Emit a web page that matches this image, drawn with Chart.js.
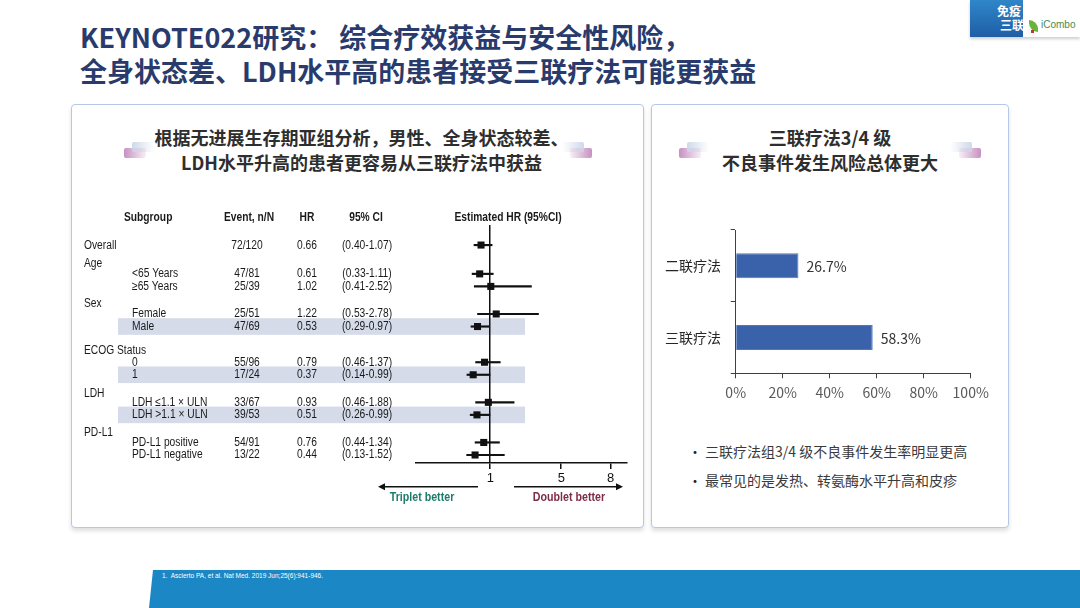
<!DOCTYPE html>
<html lang="zh-CN">
<head>
<meta charset="utf-8">
<script src="https://cdn.jsdelivr.net/npm/chart.js@4.4.1/dist/chart.umd.min.js"></script>
<style>
  html, body { margin: 0; padding: 0; background: #fff; }
  #slide { position: relative; width: 1080px; height: 608px; overflow: hidden; font-family: "Noto Sans CJK SC", sans-serif; }
  .title { position: absolute; left: 80px; top: 20px; margin: 0; font-size: 27px; line-height: 33.5px; font-weight: 700; color: #293b6c; white-space: nowrap; }
  .panel { position: absolute; top: 104px; height: 424px; box-sizing: border-box; border: 1.5px solid #b7c7ea; border-radius: 4px; background: #fff; box-shadow: 0 3px 4px rgba(0,0,0,0.13); }
  .head { position: absolute; top: 125px; text-align: center; font-size: 18px; line-height: 25px; font-weight: 700; color: #2e2e2e; white-space: nowrap; }
  .deco { position: absolute; height: 10px; border-radius: 2px; }
  .pinkL { background: linear-gradient(90deg, rgba(196,138,190,0.95), rgba(220,180,215,0.2)); }
  .blueL { background: linear-gradient(90deg, rgba(205,214,232,0.95), rgba(235,240,248,0)); }
  .pinkR { background: linear-gradient(90deg, rgba(220,180,215,0.2), rgba(196,138,190,0.95)); }
  .blueR { background: linear-gradient(90deg, rgba(235,240,248,0), rgba(205,214,232,0.95)); }
  .bullet { position: absolute; left: 688px; font-size: 14px; line-height: 20px; color: #3a3a3a; white-space: nowrap; }
  .bullet span { display: inline-block; width: 17px; color: #222; }
  canvas { position: absolute; }
</style>
</head>
<body>
<div id="slide">
  <!-- top-right badge -->
  <div style="position:absolute;left:970px;top:0;width:110px;height:37px;background:linear-gradient(#2f86c8,#1f5ea7);box-shadow:0 2px 3px rgba(0,0,0,0.2);"></div>
  <div style="position:absolute;left:997px;top:3px;font-size:12px;line-height:15px;font-weight:700;color:#fff;">免疫</div>
  <div style="position:absolute;left:1000px;top:17px;font-size:12px;line-height:15px;font-weight:700;color:#fff;">三联</div>
  <div style="position:absolute;left:1023px;top:0;width:57px;height:37px;background:#fff;"></div>
  <div style="position:absolute;left:1029px;top:20px;width:9px;height:12px;background:#6bb33a;border-radius:0 9px 0 9px;"></div>
  <div style="position:absolute;left:1031px;top:30px;width:3px;height:3px;background:#d2302c;"></div>
  <div style="position:absolute;left:1041px;top:19px;font-family:'Liberation Sans',sans-serif;font-size:10px;line-height:12px;color:#4a8a4a;">iCombo</div>

  <h1 class="title">KEYNOTE022研究： 综合疗效获益与安全性风险，<br>全身状态差、LDH水平高的患者接受三联疗法可能更获益</h1>

  <div class="panel" style="left:71px;width:573px;"></div>
  <div class="panel" style="left:651px;width:358px;"></div>

  <!-- heading decorations -->
  <div class="deco pinkL" style="left:124px;top:148px;width:22px;"></div>
  <div class="deco blueL" style="left:132px;top:142px;width:22px;"></div>
  <div class="deco pinkR" style="left:570px;top:148px;width:22px;"></div>
  <div class="deco blueR" style="left:562px;top:142px;width:22px;"></div>
  <div class="deco pinkL" style="left:679px;top:148px;width:22px;"></div>
  <div class="deco blueL" style="left:687px;top:142px;width:22px;"></div>
  <div class="deco pinkR" style="left:959px;top:148px;width:22px;"></div>
  <div class="deco blueR" style="left:950px;top:142px;width:22px;"></div>

  <div class="head" style="left:76px;width:571px;">根据无进展生存期亚组分析，男性、全身状态较差、<br>LDH水平升高的患者更容易从三联疗法中获益</div>
  <div class="head" style="left:651px;width:358px;">三联疗法3/4 级<br>不良事件发生风险总体更大</div>

  <canvas id="forest" style="left:72px;top:190px;"></canvas>
  <canvas id="aeChart" style="left:651px;top:200px;"></canvas>

  <div class="bullet" style="top:441px;"><span>•</span>三联疗法组3/4 级不良事件发生率明显更高</div>
  <div class="bullet" style="top:470px;"><span>•</span>最常见的是发热、转氨酶水平升高和皮疹</div>

  <div style="position:absolute;left:149px;top:570px;width:931px;height:38px;background:#1b87c4;clip-path:polygon(4px 0,100% 0,100% 100%,0 100%);"></div>
  <div style="position:absolute;left:162px;top:572px;font-family:'Liberation Sans',sans-serif;font-size:6.5px;line-height:8px;color:#fff;">1.&nbsp; Ascierto PA, et al. Nat Med. 2019 Jun;25(6):941-946.</div>
</div>

<script>
// ---- forest plot data (PFS subgroups) ----
const GROUPS = ['Overall', 'Age', 'Sex', 'ECOG Status', 'LDH', 'PD-L1'];
const SUBGROUPS = ['', '<65 Years', '≥65 Years', 'Female', 'Male', '0', '1', 'LDH ≤1.1 × ULN', 'LDH >1.1 × ULN', 'PD-L1 positive', 'PD-L1 negative'];
const SUBGROUP_OF = [0, 1, 1, 2, 2, 3, 3, 4, 4, 5, 5];
const EVENTS = [72, 47, 25, 25, 47, 55, 17, 33, 39, 54, 13];
const TOTALS = [120, 81, 39, 51, 69, 96, 24, 67, 53, 91, 22];
const HR = [0.66, 0.61, 1.02, 1.22, 0.53, 0.79, 0.37, 0.93, 0.51, 0.76, 0.44];
const CI_LOW = [0.40, 0.33, 0.41, 0.53, 0.29, 0.46, 0.14, 0.46, 0.26, 0.44, 0.13];
const CI_HIGH = [1.07, 1.11, 2.52, 2.78, 0.97, 1.37, 0.99, 1.88, 0.99, 1.34, 1.52];
const HIGHLIGHT = ['Male', '1', 'LDH >1.1 × ULN'];
const HR_TICKS = [1, 5, 8];

// ---- adverse event chart data ----
const AE_CATEGORIES = ['二联疗法', '三联疗法'];
const AE_RATE = [26.7, 58.3];
const AE_TICK_STEP = 20;

// row layout: gap before each group, and how far its header sits above the first row
const GROUP_GAP = [0, 2.3, 2.2, 2.85, 2.2, 2.2];
const HEADER_LIFT = [0, 0.86, 0.8, 0.95, 0.67, 0.81];
const rowPos = [];
const headerPos = [];
let pos = 0;
SUBGROUP_OF.forEach((g, i) => {
    const newGroup = i === 0 || g !== SUBGROUP_OF[i - 1];
    if (i > 0) pos += newGroup ? GROUP_GAP[g] : 1;
    if (newGroup) headerPos[g] = pos - HEADER_LIFT[g];
    rowPos.push(pos);
});

// the original HR axis is broken: linear near 1, compressed past ~2.8
const X_BREAKS = [[2.8, 2.8], [5, 3.62], [8, 5.44]];
function warp(v) {
    if (v <= X_BREAKS[0][0]) return v;
    for (let i = 1; i < X_BREAKS.length; i++) {
        const [a, ua] = X_BREAKS[i - 1], [b, ub] = X_BREAKS[i];
        if (v <= b || i === X_BREAKS.length - 1) return ua + (v - a) * (ub - ua) / (b - a);
    }
}
function unwarp(u) {
    if (u <= X_BREAKS[0][1]) return u;
    for (let i = 1; i < X_BREAKS.length; i++) {
        const [a, ua] = X_BREAKS[i - 1], [b, ub] = X_BREAKS[i];
        if (u <= ub || i === X_BREAKS.length - 1) return a + (u - ua) * (b - a) / (ub - ua);
    }
}
class BrokenScale extends Chart.LinearScale {
    static id = 'broken';
    getPixelForValue(v) {
        const a = warp(this.min), b = warp(this.max);
        return this.getPixelForDecimal((warp(v) - a) / (b - a));
    }
    getValueForPixel(p) {
        const a = warp(this.min), b = warp(this.max);
        return unwarp(a + this.getDecimalForPixel(p) * (b - a));
    }
}
Chart.register(BrokenScale);

// narrow font check, fall back to squeezing Liberation Sans
const HAS_NARROW = (() => {
    const c = document.createElement('canvas').getContext('2d');
    c.font = '40px "Liberation Sans Narrow", monospace';
    const w = c.measureText('Subgroup Event').width;
    c.font = '40px monospace';
    return Math.abs(w - c.measureText('Subgroup Event').width) > 1;
})();

function txt(ctx, str, x, y, size, bold, color, align) {
    ctx.save();
    ctx.fillStyle = color;
    ctx.textAlign = align || 'left';
    ctx.textBaseline = 'middle';
    const w = bold ? 'bold ' : '';
    if (HAS_NARROW) {
        ctx.font = `${w}${size}px "Liberation Sans Narrow"`;
        ctx.fillText(str, x, y);
    } else {
        ctx.font = `${w}${size}px "Liberation Sans", Arial`;
        ctx.translate(x, y);
        ctx.scale(0.82, 1);
        ctx.fillText(str, 0, 0);
    }
    ctx.restore();
}

function arrow(ctx, x1, x2, y) {
    const dir = Math.sign(x2 - x1);
    ctx.save();
    ctx.strokeStyle = '#111';
    ctx.fillStyle = '#111';
    ctx.lineWidth = 1.5;
    ctx.beginPath();
    ctx.moveTo(x1, y);
    ctx.lineTo(x2 - dir * 5, y);
    ctx.stroke();
    ctx.beginPath();
    ctx.moveTo(x2, y);
    ctx.lineTo(x2 - dir * 7, y - 3.5);
    ctx.lineTo(x2 - dir * 7, y + 3.5);
    ctx.closePath();
    ctx.fill();
    ctx.restore();
}

const forestTable = {
    id: 'forestTable',
    beforeDraw(chart) {
        // shaded rows
        const ctx = chart.ctx, ys = chart.scales.y;
        ctx.save();
        ctx.fillStyle = '#d5dbe9';
        SUBGROUPS.forEach((s, i) => {
            if (!HIGHLIGHT.includes(s)) return;
            const py = ys.getPixelForValue(rowPos[i]);
            ctx.fillRect(46, py - 8.3, 407, 16.6);
        });
        ctx.restore();
    },
    afterDraw(chart) {
        const ctx = chart.ctx, ys = chart.scales.y, area = chart.chartArea;
        const c = '#1a1a1a';
        const hy = area.top - 7;
        txt(ctx, 'Subgroup', 52, hy, 12.5, true, c);
        txt(ctx, 'Event, n/N', 177, hy, 12.5, true, c, 'center');
        txt(ctx, 'HR', 235, hy, 12.5, true, c, 'center');
        txt(ctx, '95% CI', 294, hy, 12.5, true, c, 'center');
        txt(ctx, 'Estimated HR (95%CI)', 436, hy, 12.5, true, c, 'center');

        GROUPS.forEach((g, i) => txt(ctx, g, 12, ys.getPixelForValue(headerPos[i]), 12.5, false, c));
        SUBGROUPS.forEach((s, i) => {
            const py = ys.getPixelForValue(rowPos[i]);
            if (s) txt(ctx, s, 60, py, 12.5, false, c);
            txt(ctx, EVENTS[i] + '/' + TOTALS[i], 175, py, 12.5, false, c, 'center');
            txt(ctx, HR[i].toFixed(2), 235, py, 12.5, false, c, 'center');
            txt(ctx, '(' + CI_LOW[i].toFixed(2) + '-' + CI_HIGH[i].toFixed(2) + ')', 295, py, 12.5, false, c, 'center');
        });

        const ay = area.bottom + 23.7;
        arrow(ctx, 406, 306, ay);
        arrow(ctx, 442, 551, ay);
        txt(ctx, 'Triplet better', 350, ay + 11, 13, true, '#1e7b6c', 'center');
        txt(ctx, 'Doublet better', 497, ay + 11, 13, true, '#7d2d4a', 'center');
    }
};

function drawForest() {
    const cv = document.getElementById('forest');
    cv.width = 571;
    cv.height = 330;
    new Chart(cv, {
        type: 'scatter',
        data: {
            datasets: [{
                type: 'bar',
                indexAxis: 'y',
                data: SUBGROUPS.map((s, i) => ({ x: [CI_LOW[i], CI_HIGH[i]], y: rowPos[i] })),
                backgroundColor: '#111',
                borderWidth: 0,
                barThickness: 1.5
            }, {
                type: 'scatter',
                data: HR.map((v, i) => ({ x: v, y: rowPos[i] })),
                pointStyle: 'rect',
                pointRadius: 5,
                borderWidth: 0,
                backgroundColor: '#111'
            }]
        },
        options: {
            responsive: false,
            animation: false,
            layout: { padding: { left: 344, right: 16, top: 35, bottom: 33 } },
            plugins: { legend: { display: false }, tooltip: { enabled: false } },
            scales: {
                x: {
                    type: 'broken',
                    min: -1.74,
                    max: 9,
                    offset: false,
                    afterBuildTicks: s => { s.ticks = HR_TICKS.map(v => ({ value: v })); },
                    afterFit: s => { s.height = 24; },
                    grid: {
                        offset: false,
                        color: c => (c.tick && c.tick.value === 1 ? '#111' : 'rgba(0,0,0,0)'),
                        lineWidth: 1.5,
                        tickColor: '#111',
                        tickLength: 6
                    },
                    border: { color: '#111', width: 1.5 },
                    ticks: { color: '#111', padding: 2, autoSkip: false, maxRotation: 0,
                        font: { family: '"Liberation Sans Narrow", "Liberation Sans"', size: 13 } }
                },
                y: { type: 'linear', reverse: true, min: -1.6, max: 17.39, offset: false, display: false }
            }
        },
        plugins: [forestTable]
    });
}

const barLabels = {
    id: 'barLabels',
    afterDatasetsDraw(chart) {
        const ctx = chart.ctx;
        ctx.save();
        ctx.fillStyle = '#333';
        ctx.font = '14px "Noto Sans CJK SC"';
        ctx.textBaseline = 'middle';
        chart.getDatasetMeta(0).data.forEach((bar, i) => {
            ctx.fillText(AE_RATE[i].toFixed(1) + '%', bar.x + 8, bar.y + 1);
        });
        ctx.restore();
    }
};

function drawAE() {
    const cv = document.getElementById('aeChart');
    cv.width = 358;
    cv.height = 215;
    new Chart(cv, {
        type: 'bar',
        data: {
            labels: AE_CATEGORIES,
            datasets: [{
                data: AE_RATE,
                backgroundColor: '#3962aa',
                borderColor: '#4f78bb',
                borderWidth: 1,
                categoryPercentage: 1,
                barPercentage: 0.35
            }]
        },
        options: {
            indexAxis: 'y',
            responsive: false,
            animation: false,
            layout: { padding: { left: 0, right: 38.3, top: 30, bottom: 11.7 } },
            plugins: { legend: { display: false }, tooltip: { enabled: false } },
            scales: {
                x: {
                    min: 0,
                    max: 100,
                    afterFit: s => { s.height = 30; },
                    grid: { drawOnChartArea: false, tickLength: 5, tickColor: '#404040' },
                    border: { color: '#404040', width: 1 },
                    ticks: { stepSize: AE_TICK_STEP, padding: 6, color: '#595959', callback: v => v + '%',
                        font: { family: '"Noto Sans CJK SC"', size: 14 } }
                },
                y: {
                    afterFit: s => { s.width = 84.7; },
                    grid: { drawOnChartArea: false, tickLength: 5, tickColor: '#404040' },
                    border: { color: '#404040', width: 1 },
                    ticks: { padding: 9.7, color: '#262626', font: { family: '"Noto Sans CJK SC"', size: 14 } }
                }
            }
        },
        plugins: [barLabels]
    });
}

document.addEventListener('DOMContentLoaded', () => {
    drawForest();
    drawAE();
});
</script>
</body>
</html>
